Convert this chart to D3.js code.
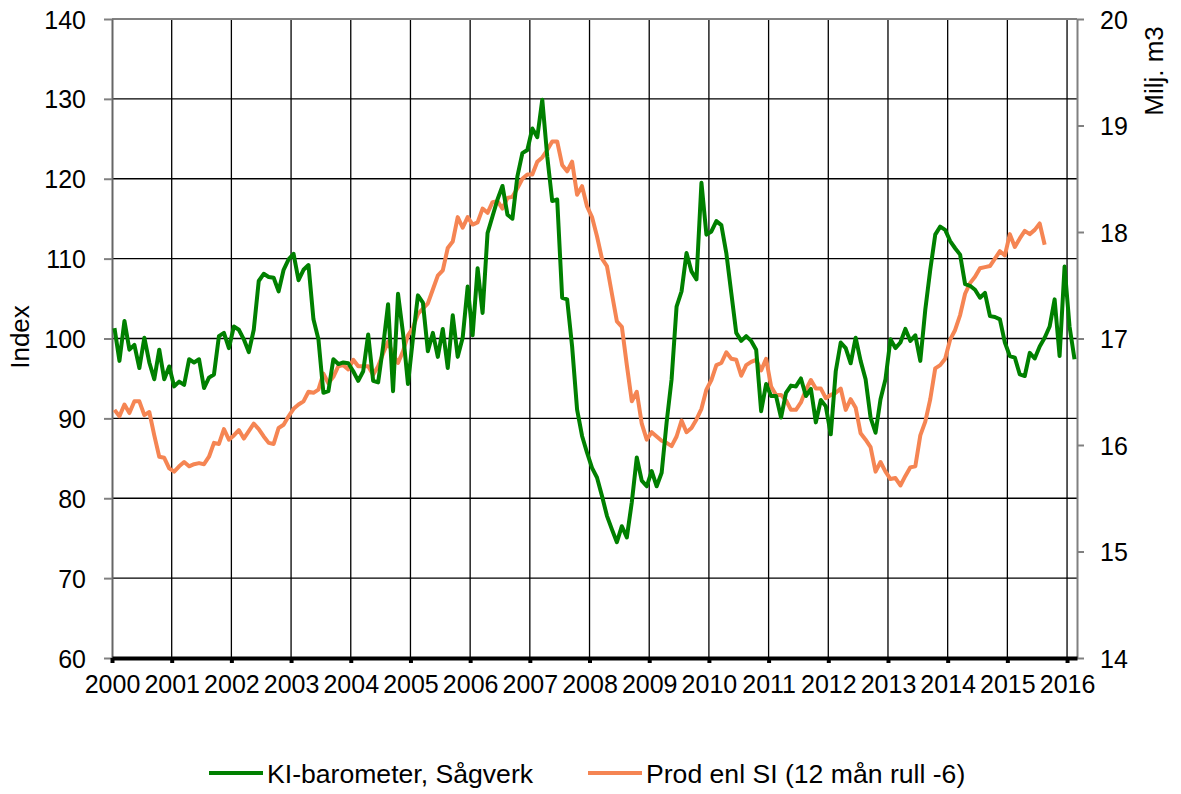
<!DOCTYPE html>
<html>
<head>
<meta charset="utf-8">
<script src="https://cdn.jsdelivr.net/npm/d3@7"></script>
<style>
  body { margin: 0; background: #fff; }
  text { font-family: "Liberation Sans", Arial, sans-serif; fill: #000; }
</style>
</head>
<body>
<div id="chart"></div>
<script>
// KI-barometer, Sågverk (monthly, Jan 2000 - Feb 2016), left axis
const kiBarometer = [
  101.3, 97.2, 102.2, 98.6, 99.2, 96.3, 100.1, 97, 94.9, 98.6, 94.9, 96.5,
  94, 94.6, 94.2, 97.4, 97, 97.4, 93.8, 95.1, 95.5, 100.3, 100.7, 98.8,
  101.5, 101.1, 99.9, 98.3, 101.1, 107.2, 108.1, 107.7, 107.6, 105.9, 108.6, 109.9,
  110.6, 107.3, 108.6, 109.2, 102.4, 99.9, 93.2, 93.4, 97.4, 96.8, 97, 96.9,
  95.9, 94.7, 95.9, 100.5, 94.7, 94.5, 99, 104.3, 93.4, 105.6, 100.7, 94.3,
  100, 105.4, 104.5, 98.4, 100.7, 97.7, 101.2, 96.3, 102.9, 97.7, 100.1, 106.5,
  100.4, 108.8, 103.2, 113.2, 115.3, 117.4, 119.1, 115.5, 115, 120.3, 123.2, 123.6,
  126.3, 125.2, 129.9, 122.8, 117.2, 117.4, 105.1, 104.9, 99, 91.1, 87.8, 85.7,
  83.8, 82.6, 80.3, 77.8, 76.1, 74.5, 76.5, 75.1, 79.5, 85.1, 82.2, 81.5,
  83.4, 81.5, 83.2, 89.5, 94.9, 104, 105.9, 110.7, 108.4, 107.4, 119.5, 113,
  113.4, 114.7, 114.2, 110.7, 105.7, 100.7, 99.7, 100.3, 99.7, 98.6, 90.9, 94.3,
  92.8, 92.8, 90.1, 93.2, 94.1, 94, 95, 92.8, 93.7, 89.5, 92.3, 91.5,
  88, 95.9, 99.5, 98.8, 96.9, 100.1, 97.2, 94.9, 90.1, 88.2, 92.4, 94.9,
  99.9, 98.8, 99.5, 101.2, 99.7, 100.4, 97.2, 103.6, 108.6, 113, 114, 113.6,
  112.2, 111.3, 110.5, 106.8, 106.6, 106.1, 105.1, 105.7, 102.8, 102.7, 102.4, 99.5,
  97.8, 97.6, 95.5, 95.3, 98.2, 97.5, 99, 100.1, 101.5, 104.9, 97.8, 109,
  101.5, 97.4
];

// Prod enl SI (12 mån rull -6), Milj. m3, right axis
const prodSI = [
  16.33, 16.27, 16.38, 16.30, 16.41, 16.41, 16.28, 16.31, 16.09, 15.89, 15.88, 15.78,
  15.75, 15.80, 15.84, 15.80, 15.82, 15.83, 15.82, 15.89, 16.02, 16.01, 16.15, 16.05,
  16.09, 16.14, 16.06, 16.13, 16.20, 16.15, 16.08, 16.02, 16.01, 16.16, 16.19, 16.27,
  16.34, 16.38, 16.41, 16.50, 16.49, 16.52, 16.67, 16.58, 16.64, 16.74, 16.75, 16.71,
  16.80, 16.74, 16.74, 16.74, 16.66, 16.74, 16.86, 16.97, 16.85, 16.77, 16.88, 17.03,
  17.10, 17.23, 17.28, 17.33, 17.46, 17.59, 17.64, 17.85, 17.91, 18.14, 18.04, 18.14,
  18.07, 18.09, 18.22, 18.18, 18.28, 18.29, 18.22, 18.32, 18.33, 18.41, 18.50, 18.54,
  18.54, 18.66, 18.70, 18.77, 18.85, 18.85, 18.63, 18.57, 18.66, 18.35, 18.43, 18.24,
  18.14, 17.96, 17.75, 17.68, 17.42, 17.16, 17.11, 16.75, 16.41, 16.50, 16.20, 16.05,
  16.12, 16.08, 16.04, 16.02, 15.99, 16.08, 16.23, 16.12, 16.16, 16.24, 16.34, 16.52,
  16.61, 16.75, 16.77, 16.87, 16.81, 16.80, 16.65, 16.75, 16.78, 16.80, 16.70, 16.81,
  16.55, 16.47, 16.47, 16.42, 16.33, 16.33, 16.40, 16.52, 16.61, 16.53, 16.53, 16.44,
  16.47, 16.49, 16.53, 16.33, 16.43, 16.35, 16.11, 16.05, 15.98, 15.75, 15.84, 15.75,
  15.68, 15.69, 15.62, 15.71, 15.79, 15.80, 16.09, 16.22, 16.43, 16.72, 16.75, 16.81,
  16.99, 17.08, 17.22, 17.42, 17.52, 17.58, 17.66, 17.67, 17.68, 17.75, 17.82, 17.78,
  17.98, 17.86, 17.94, 18.01, 17.98, 18.02, 18.08, 17.88
];

const years = d3.range(2000, 2017);
const leftTicks = [60, 70, 80, 90, 100, 110, 120, 130, 140];
const rightTicks = [14, 15, 16, 17, 18, 19, 20];
const seriesNames = ["KI-barometer, Sågverk", "Prod enl SI (12 mån rull -6)"];
const seriesColors = ["#008000", "#f58553"];

const width = 1181;
const height = 794;
const plot = { left: 112, right: 1077, top: 19, bottom: 658 };

const svg = d3.select("#chart")
  .append("svg")
  .attr("width", width)
  .attr("height", height);

// scales
const x = d3.scaleLinear()
  .domain([0, kiBarometer.length])
  .range([plot.left, plot.right]);

const yLeft = d3.scaleLinear()
  .domain([60, 140])
  .range([plot.bottom, plot.top]);

const yRight = d3.scaleLinear()
  .domain([14, 20])
  .range([plot.bottom, plot.top]);

// horizontal grid
svg.append("g")
  .selectAll("line")
  .data(leftTicks.slice(1, -1))
  .join("line")
  .attr("x1", plot.left)
  .attr("x2", plot.right)
  .attr("y1", d => yLeft(d))
  .attr("y2", d => yLeft(d))
  .attr("stroke", "#000")
  .attr("stroke-width", 1.3);

// vertical grid at each year
svg.append("g")
  .selectAll("line")
  .data(years.slice(1))
  .join("line")
  .attr("x1", d => x((d - 2000) * 12))
  .attr("x2", d => x((d - 2000) * 12))
  .attr("y1", plot.top)
  .attr("y2", plot.bottom)
  .attr("stroke", "#000")
  .attr("stroke-width", 1.3);

// top border
svg.append("line")
  .attr("x1", plot.left).attr("x2", plot.right)
  .attr("y1", plot.top).attr("y2", plot.top)
  .attr("stroke", "#808080")
  .attr("stroke-width", 2);

// left axis
const leftAxis = svg.append("g")
  .attr("transform", `translate(${plot.left},0)`)
  .call(d3.axisLeft(yLeft).tickValues(leftTicks).tickSize(8).tickSizeOuter(0).tickPadding(18));
leftAxis.select(".domain").attr("stroke", "#666").attr("stroke-width", 2);
leftAxis.selectAll(".tick line").attr("stroke", "#808080").attr("stroke-width", 2);
leftAxis.selectAll(".tick text")
  .attr("font-size", 25)
  .attr("font-family", "Liberation Sans, Arial, sans-serif")
  .attr("dy", "0.36em");

// right axis
const rightAxis = svg.append("g")
  .attr("transform", `translate(${plot.right},0)`)
  .call(d3.axisRight(yRight).tickValues(rightTicks).tickFormat(d3.format("d"))
    .tickSize(7).tickSizeOuter(0).tickPadding(16));
rightAxis.select(".domain").attr("stroke", "#808080").attr("stroke-width", 2);
rightAxis.selectAll(".tick line").attr("stroke", "#808080").attr("stroke-width", 2);
rightAxis.selectAll(".tick text")
  .attr("font-size", 25)
  .attr("font-family", "Liberation Sans, Arial, sans-serif")
  .attr("dy", "0.36em");

// bottom axis (years)
const bottomAxis = svg.append("g")
  .attr("transform", `translate(0,${plot.bottom})`)
  .call(d3.axisBottom(x)
    .tickValues(years.map(d => (d - 2000) * 12))
    .tickFormat((d, i) => years[i])
    .tickSize(5)
    .tickSizeOuter(0)
    .tickPadding(12));
bottomAxis.select(".domain").attr("stroke", "#000").attr("stroke-width", 4);
bottomAxis.selectAll(".tick line").attr("stroke", "#000").attr("stroke-width", 4);
bottomAxis.selectAll(".tick text")
  .attr("font-size", 25)
  .attr("font-family", "Liberation Sans, Arial, sans-serif");

// lines
const lineLeft = d3.line()
  .x((d, i) => x(i + 0.5))
  .y(d => yLeft(d));

const lineRight = d3.line()
  .x((d, i) => x(i + 0.5))
  .y(d => yRight(d));

svg.append("path")
  .datum(prodSI)
  .attr("fill", "none")
  .attr("stroke", seriesColors[1])
  .attr("stroke-width", 4)
  .attr("stroke-linejoin", "round")
  .attr("d", lineRight);

svg.append("path")
  .datum(kiBarometer)
  .attr("fill", "none")
  .attr("stroke", seriesColors[0])
  .attr("stroke-width", 4)
  .attr("stroke-linejoin", "round")
  .attr("d", lineLeft);

// axis titles
svg.append("text")
  .attr("transform", "translate(29,337) rotate(-90)")
  .attr("text-anchor", "middle")
  .attr("font-size", 26)
  .text("Index");

svg.append("text")
  .attr("transform", "translate(1163,71) rotate(-90)")
  .attr("text-anchor", "middle")
  .attr("font-size", 26)
  .text("Milj. m3");

// legend
const legendX = [209, 588];
const legend = svg.append("g")
  .selectAll("g")
  .data(seriesNames)
  .join("g")
  .attr("transform", (d, i) => `translate(${legendX[i]},773)`);

legend.append("line")
  .attr("x1", 0).attr("x2", 54)
  .attr("stroke", (d, i) => seriesColors[i])
  .attr("stroke-width", 4);

legend.append("text")
  .attr("x", 58)
  .attr("y", 10)
  .attr("font-size", 26.6)
  .text(d => d);
</script>
</body>
</html>
